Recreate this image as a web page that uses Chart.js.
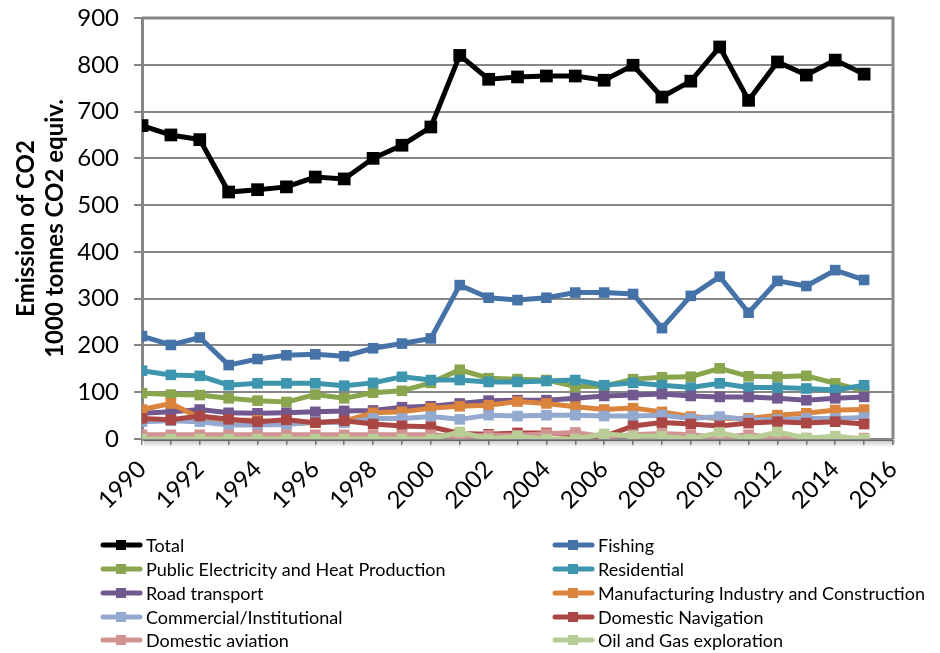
<!DOCTYPE html>
<html>
<head>
<meta charset="utf-8">
<script src="https://cdn.jsdelivr.net/npm/chart.js@4.4.0/dist/chart.umd.min.js"></script>
<style>
  html, body { margin: 0; padding: 0; background: #fff; }
  #wrap { width: 940px; height: 653px; position: relative; }
</style>
</head>
<body>
<div id="wrap"><canvas id="chart" width="940" height="653"></canvas></div>
<script>
const years = [1990, 1991, 1992, 1993, 1994, 1995, 1996, 1997, 1998, 1999, 2000, 2001, 2002,
  2003, 2004, 2005, 2006, 2007, 2008, 2009, 2010, 2011, 2012, 2013, 2014, 2015];

const total = [670, 650, 640, 528, 533, 539, 560, 556, 600, 628, 667, 820, 769, 774, 776, 776, 767, 799, 731, 765, 838, 724, 806, 778, 810, 780];
const fishing = [220, 201, 217, 158, 171, 179, 181, 177, 194, 204, 215, 329, 302, 297, 302, 313, 313, 310, 237, 306, 347, 270, 338, 327, 361, 340];
const publicElectricity = [98, 95, 94, 87, 82, 79, 95, 87, 99, 103, 120, 148, 130, 128, 126, 112, 113, 128, 132, 133, 151, 134, 133, 135, 119, 103];
const residential = [146, 137, 135, 115, 119, 119, 119, 114, 120, 133, 126, 126, 122, 122, 124, 126, 115, 120, 115, 110, 119, 110, 110, 108, 105, 115];
const roadTransport = [55, 58, 63, 56, 55, 56, 58, 60, 61, 68, 70, 76, 82, 83, 83, 87, 92, 94, 96, 92, 90, 90, 87, 83, 87, 90];
const manufacturing = [63, 76, 45, 40, 40, 32, 35, 38, 56, 58, 66, 70, 72, 80, 76, 69, 63, 66, 58, 48, 44, 44, 51, 55, 62, 63];
const commercial = [37, 39, 37, 30, 30, 31, 37, 35, 44, 44, 48, 42, 51, 49, 51, 51, 49, 49, 51, 44, 48, 41, 41, 44, 44, 46];
const domesticNavigation = [44, 41, 49, 42, 37, 41, 35, 39, 32, 28, 26, 12, 10, 13, 13, 9, 5, 28, 35, 32, 28, 34, 37, 34, 37, 32];
const domesticAviation = [9, 9, 9, 9, 9, 9, 9, 9, 9, 9, 9, 5, 8, 8, 11, 14, 5, 9, 12, 9, 3, 9, 2, 2, 0, 2];
const oilGas = [0, 0, 0, 0, 0, 0, 0, 0, 0, 0, 0, 15, 0, 6, 0, 0, 11, 6, 6, 0, 14, 0, 15, 2, 6, 0];

const seriesNames = ['Total', 'Fishing', 'Public Electricity and Heat Production', 'Residential',
  'Road transport', 'Manufacturing Industry and Construction', 'Commercial/Institutional',
  'Domestic Navigation', 'Domestic aviation', 'Oil and Gas exploration'];
const seriesValues = [total, fishing, publicElectricity, residential, roadTransport,
  manufacturing, commercial, domesticNavigation, domesticAviation, oilGas];
const seriesColors = ['#000000', '#4572A7', '#89A54E', '#3D96AE', '#71588F',
  '#DB843D', '#93A9CF', '#AA4643', '#D19392', '#B9CD96'];

const yTicks = [0, 100, 200, 300, 400, 500, 600, 700, 800, 900];
const yTitle = ['Emission of CO2', '1000 tonnes CO2 equiv.'];

const FONT = 'Lato, "Open Sans", sans-serif';
const GRID = '#868686';

const datasets = seriesNames.map((name, i) => ({
  label: name,
  data: years.map((y, j) => ({ x: y, y: seriesValues[i][j] })),
  borderColor: seriesColors[i],
  backgroundColor: seriesColors[i],
  borderWidth: 5,
  pointStyle: 'rect',
  pointRadius: i === 0 ? 9 : 7.5,
  pointBorderWidth: 0,
  tension: 0,
  // later series sit on top, like the original
  order: seriesNames.length - i
}));

// plot frame, shadow under the x axis and the two-column legend
const decorations = {
  id: 'decorations',
  beforeDatasetsDraw (chart) {
    const { ctx, chartArea: a } = chart;
    ctx.save();
    const g = ctx.createLinearGradient(0, a.bottom, 0, a.bottom + 8);
    g.addColorStop(0, 'rgba(0,0,0,0.28)');
    g.addColorStop(1, 'rgba(0,0,0,0)');
    ctx.fillStyle = g;
    ctx.fillRect(a.left + 2, a.bottom + 1, a.right - a.left, 8);
    ctx.strokeStyle = GRID;
    ctx.lineWidth = 3;
    ctx.beginPath();
    ctx.moveTo(a.left, a.top);
    ctx.lineTo(a.right, a.top);
    ctx.lineTo(a.right, a.bottom);
    ctx.stroke();
    ctx.restore();
  },
  afterDraw (chart) {
    const { ctx } = chart;
    ctx.save();
    ctx.font = '18px ' + FONT;
    ctx.textBaseline = 'middle';
    ctx.textAlign = 'left';
    const colX = [103, 555];
    const rowY = [545, 569, 593, 617, 640];
    seriesNames.forEach((name, i) => {
      const x = colX[i % 2];
      const y = rowY[Math.floor(i / 2)];
      ctx.strokeStyle = seriesColors[i];
      ctx.lineWidth = 5;
      ctx.lineCap = 'round';
      ctx.beginPath();
      ctx.moveTo(x, y);
      ctx.lineTo(x + 37, y);
      ctx.stroke();
      ctx.fillStyle = seriesColors[i];
      ctx.fillRect(x + 13, y - 5, 10, 10);
      ctx.fillStyle = '#000';
      ctx.fillText(name, x + 43, y + 1);
    });
    ctx.restore();
  }
};

new Chart(document.getElementById('chart'), {
  type: 'line',
  data: { datasets },
  options: {
    responsive: false,
    animation: false,
    layout: { padding: { top: 18, right: 47, bottom: 144, left: 0 } },
    plugins: {
      legend: { display: false },
      tooltip: { enabled: false }
    },
    scales: {
      x: {
        type: 'linear',
        min: 1990,
        max: 2016,
        afterFit: s => { s.height = 70; s.paddingLeft = 0; s.paddingRight = 0; },
        afterBuildTicks: s => { s.ticks = years.concat([2016]).map(v => ({ value: v })); },
        border: { color: GRID, width: 3 },
        grid: { drawOnChartArea: false, color: GRID, lineWidth: 1.5, tickLength: 6 },
        ticks: {
          autoSkip: false,
          minRotation: 45,
          maxRotation: 45,
          padding: 10,
          color: '#000',
          font: { family: FONT, size: 24 },
          callback: v => (v % 2 === 0 ? String(v) : '')
        }
      },
      y: {
        min: 0,
        max: 900,
        afterFit: s => { s.width = 142; s.paddingTop = 10; s.paddingBottom = 10; },
        afterBuildTicks: s => { s.ticks = yTicks.map(v => ({ value: v })); },
        border: { color: GRID, width: 3 },
        grid: { color: GRID, lineWidth: 2, tickLength: 8 },
        ticks: {
          padding: 15,
          color: '#000',
          font: { family: FONT, size: 24 }
        },
        title: {
          display: true,
          text: yTitle,
          color: '#000',
          font: { family: FONT, size: 24, weight: 'bold', lineHeight: 1.2 },
          padding: { top: 12, bottom: 0 }
        }
      }
    }
  },
  plugins: [decorations]
});
</script>
</body>
</html>
